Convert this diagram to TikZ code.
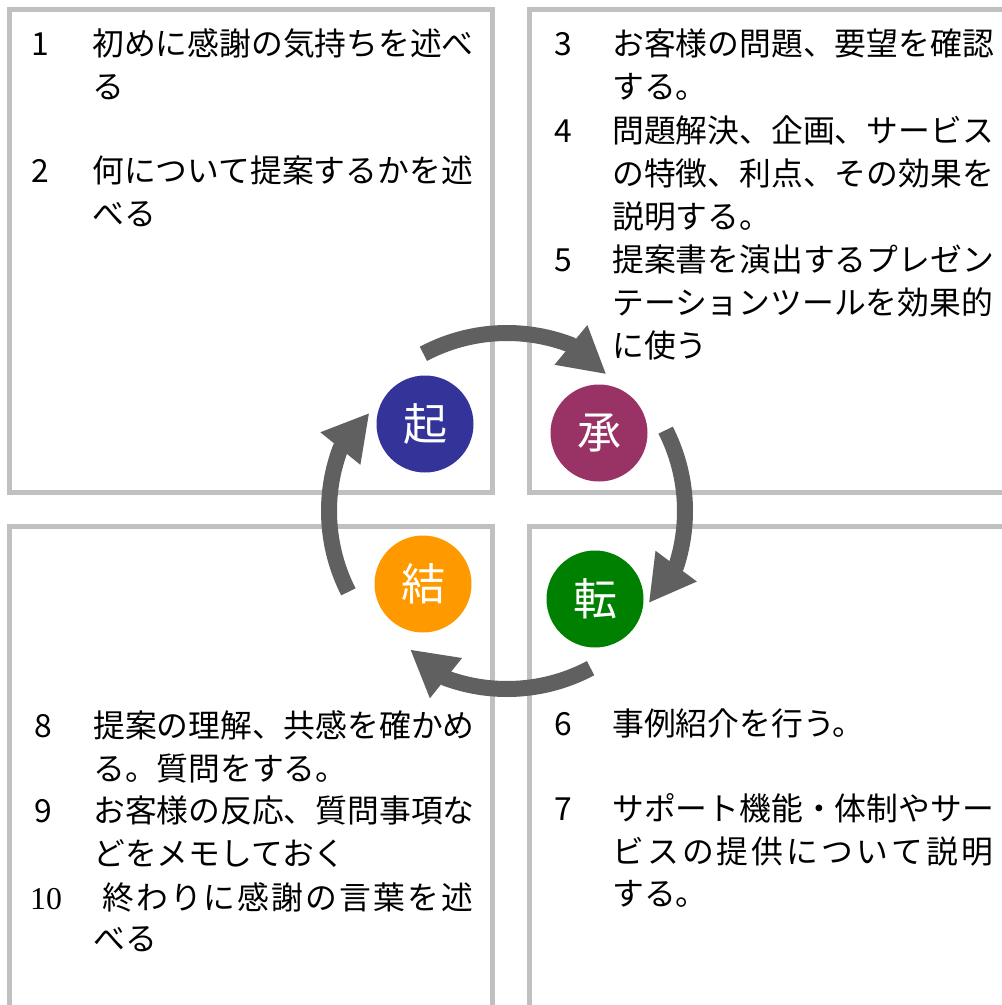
\documentclass[tikz,border=0pt]{standalone}
\usepackage{fontspec}
\setmainfont{Noto Sans CJK JP}
\newfontfamily\numserif{Liberation Serif}
\usetikzlibrary{arrows.meta}
\definecolor{boxgray}{RGB}{192,192,192}
\definecolor{arrgray}{RGB}{96,96,96}
\definecolor{kic}{RGB}{51,51,153}
\definecolor{shoc}{RGB}{153,51,102}
\definecolor{tenc}{RGB}{0,128,0}
\definecolor{ketc}{RGB}{255,153,0}
\begin{document}
\begin{tikzpicture}[x=1pt,y=-1pt,
  quad/.style={draw=boxgray, line width=5pt},
  txt/.style={anchor=base west, inner sep=0pt, font=\fontsize{31.8}{38}\selectfont},
  num/.style={anchor=base, inner sep=0pt, font=\fontsize{31.8}{38}\selectfont},
  phase/.style={circle, minimum size=97pt, inner sep=0pt, text=white, font=\fontsize{44}{50}\selectfont},
  cyc/.style={draw=arrgray, line width=16pt, -{Triangle[width=48pt,length=46pt]}}]
\useasboundingbox (0,0) rectangle (1002,1005);
\fill[white] (0,0) rectangle (1002,1005);
\clip (0,0) rectangle (1002,1005);
% boxes
\draw[quad] (9.5,9.5) rectangle (492.5,492.5);
\draw[quad] (529.5,9.5) rectangle (1020,492.5);
\draw[quad] (9.5,1020) -- (9.5,526.5) -- (492.5,526.5) -- (492.5,1020);
\draw[quad] (529.5,1020) -- (529.5,526.5) -- (1020,526.5);
% top-left
\node[num] (n1) at (40,55) {1};
\node[txt] (t1a) at (92,55) {初めに感謝の気持ちを述べ};
\node[txt] (t1b) at (92,98.5) {る};
\node[num] (n2) at (40,182) {2};
\node[txt] (t2a) at (92,182) {何について提案するかを述};
\node[txt] (t2b) at (92,225.5) {べる};
% top-right
\node[num] (n3) at (563,55) {3};
\node[txt] (t3a) at (612,55) {お客様の問題、要望を確認};
\node[txt] (t3b) at (612,98) {する。};
\node[num] (n4) at (563,142) {4};
\node[txt] (t4a) at (612,142) {問題解決、企画、サービス};
\node[txt] (t4b) at (612,185) {の特徴、利点、その効果を};
\node[txt] (t4c) at (612,228) {説明する。};
\node[num] (n5) at (563,271) {5};
\node[txt] (t5a) at (612,271) {提案書を演出するプレゼン};
\node[txt] (t5b) at (612,314) {テーションツールを効果的};
\node[txt] (t5c) at (612,357) {に使う};
% bottom-left
\node[num] (n8) at (43,737) {8};
\node[txt] (t8a) at (93,737) {提案の理解、共感を確かめ};
\node[txt] (t8b) at (93,780) {る。質問をする。};
\node[num] (n9) at (43,822) {9};
\node[txt] (t9a) at (93,822) {お客様の反応、質問事項な};
\node[txt] (t9b) at (93,865) {どをメモしておく};
\node[num, font=\fontsize{31.8}{38}\numserif] (n10) at (46,909) {10};
\node[txt] (t10a) at (102,909) {\makebox[371pt][s]{終\hfil わ\hfil り\hfil に\hfil 感\hfil 謝\hfil の\hfil 言\hfil 葉\hfil を\hfil 述}};
\node[txt] (t10b) at (93,950) {べる};
% bottom-right
\node[num] (n6) at (563,735) {6};
\node[txt] (t6a) at (612,735) {事例紹介を行う。};
\node[num] (n7) at (563,820) {7};
\node[txt] (t7a) at (612,820) {サポート機能・体制やサー};
\node[txt] (t7b) at (612,863) {\makebox[381pt][s]{ビ\hfil ス\hfil の\hfil 提\hfil 供\hfil に\hfil つ\hfil い\hfil て\hfil 説\hfil 明}};
\node[txt] (t7c) at (612,905) {する。};
% cycle arrows
\coordinate (c) at (507,511);
\draw[cyc] ([shift={(-118:178)}]c) arc[start angle=-118, end angle=-69, radius=178] -- ([shift={(-54:169)}]c);
\draw[cyc] ([shift={(-27:178)}]c) arc[start angle=-27, end angle=18, radius=178] -- ([shift={(33:169)}]c);
\draw[cyc] ([shift={(62:178)}]c) arc[start angle=62, end angle=110, radius=178] -- ([shift={(125:169)}]c);
\draw[cyc] ([shift={(153:178)}]c) arc[start angle=153, end angle=200.5, radius=178] -- ([shift={(215.5:169)}]c);
% phases
\node[phase, fill=kic] (ki) at (425,424) {起};
\node[phase, fill=shoc] (sho) at (599,433) {承};
\node[phase, fill=tenc] (ten) at (595,599) {転};
\node[phase, fill=ketc] (ketsu) at (423,584) {結};
\end{tikzpicture}
\end{document}
